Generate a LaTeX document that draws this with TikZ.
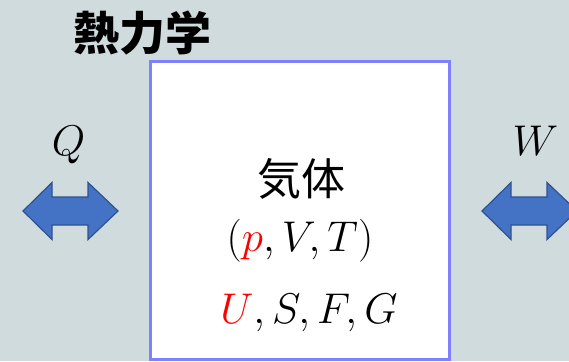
\RequirePackage{fix-cm}
\documentclass[tikz,border=0pt]{standalone}
\usepackage{fontspec}
\newfontfamily\cjk{Noto Sans CJK JP}
\definecolor{bgc}{RGB}{208,219,221}
\definecolor{boxline}{RGB}{128,128,255}
\definecolor{arrfill}{RGB}{68,114,196}
\definecolor{arrline}{RGB}{47,82,143}
\tikzset{
  dblarrow/.style={fill=arrfill, draw=arrline, line width=1.2pt, line join=miter},
  mathlbl/.style={inner sep=0pt, anchor=base, font=\fontsize{43}{50}\selectfont},
  cjklbl/.style={inner sep=0pt, font=\cjk\fontsize{44}{50}\selectfont}
}
\begin{document}
\begin{tikzpicture}[x=1pt,y=-1pt]
\useasboundingbox (0,0) rectangle (569,361);
\clip (0,0) rectangle (569,361);
\fill[bgc] (0,0) rectangle (569,361);
% title
\node[cjklbl, font=\cjk\bfseries\fontsize{46}{50}\selectfont] (title) at (142.5,33) {熱力学};
% box
\draw[boxline, fill=white, line width=2.6pt] (150.5,61.5) rectangle (449.5,359.5);
\coordinate (boxc) at (300,210);
% arrows
\draw[dblarrow] (23,211) -- (52,182.5) -- (52,197) -- (88,197) -- (88,182.5) -- (118,211)
  -- (88,239.5) -- (88,225) -- (52,225) -- (52,239.5) -- cycle;
\draw[dblarrow] (482,211) -- (511,182.5) -- (511,197) -- (547,197) -- (547,182.5) -- (577,211)
  -- (547,239.5) -- (547,225) -- (511,225) -- (511,239.5) -- cycle;
% labels
\node[mathlbl] (Q) at (68.5,155) {$Q$};
\node[mathlbl] (W) at (535.5,155) {$W$};
\node[cjklbl] (gas) at (301,179) {気体};
\node[mathlbl] (pvt) at (300,251) {$(\textcolor{red}{p},V,T)$};
\node[mathlbl] (usfg) at (309,323) {$\textcolor{red}{U},S,F,G$};
\end{tikzpicture}
\end{document}
